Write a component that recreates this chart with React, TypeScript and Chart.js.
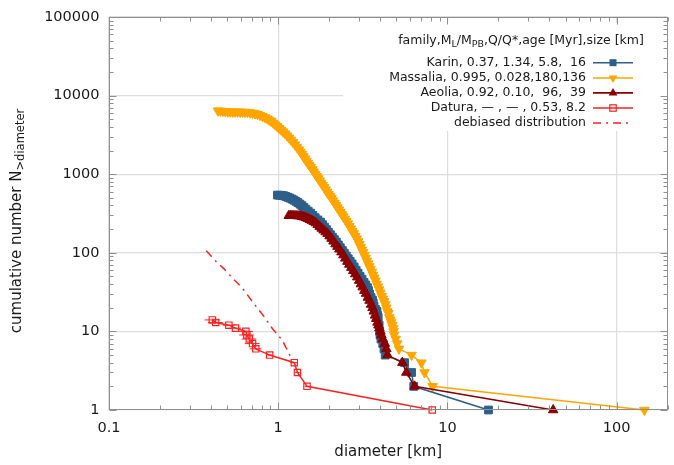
import React, { useEffect, useRef } from 'react';
import { Chart, registerables } from 'chart.js';

Chart.register(...registerables);

// ---------- data ----------
const xTickValues = [0.1, 1, 10, 100];
const yTickValues = [1, 10, 100, 1000, 10000, 100000];
const xTickLabels = ['0.1', '1', '10', '100'];
const yTickLabels = ['1', '10', '100', '1000', '10000', '100000'];

const karinDiameter = [0.99, 1.02, 1.055, 1.084, 1.114, 1.144, 1.175, 1.207, 1.24, 1.274, 1.309, 1.345, 1.381, 1.418, 1.457, 1.504, 1.553, 1.603, 1.655, 1.716, 1.78, 1.829, 1.879, 1.93, 1.982, 2.036, 2.092, 2.149, 2.208, 2.268, 2.33, 2.394, 2.459, 2.526, 2.595, 2.665, 2.737, 2.812, 2.889, 2.967, 3.048, 3.131, 3.217, 3.294, 3.372, 3.419, 3.466, 3.537, 3.609, 3.646, 3.684, 3.759, 3.836, 3.868, 3.9, 3.95, 3.98, 4.0, 4.05, 4.15, 4.22, 4.29, 5.59, 6.14, 6.33, 17.5];
const karinCount = [542, 540, 536, 530, 520, 507, 496, 482, 468, 451, 435, 416, 398, 378, 359, 339, 320, 299, 280, 262, 246, 228, 212, 197, 183, 170, 158, 147, 137, 126, 116, 107, 99, 91, 84, 78, 72, 66, 60, 55, 50, 46, 42, 39, 36, 33, 30, 27, 25, 23, 21, 19, 18, 16, 15, 12, 10, 9, 8, 7, 6, 5, 4, 3, 2, 1];

const massaliaDiameter = [0.4405, 0.4555, 0.471, 0.487, 0.504, 0.521, 0.539, 0.557, 0.576, 0.596, 0.616, 0.637, 0.659, 0.682, 0.705, 0.729, 0.754, 0.78, 0.807, 0.835, 0.863, 0.886, 0.91, 0.935, 0.961, 0.987, 1.014, 1.042, 1.07, 1.099, 1.129, 1.16, 1.191, 1.224, 1.257, 1.291, 1.326, 1.353, 1.381, 1.409, 1.438, 1.467, 1.497, 1.527, 1.558, 1.59, 1.622, 1.655, 1.689, 1.724, 1.759, 1.795, 1.831, 1.868, 1.906, 1.945, 1.985, 2.026, 2.067, 2.109, 2.152, 2.196, 2.24, 2.286, 2.332, 2.38, 2.428, 2.478, 2.528, 2.579, 2.632, 2.686, 2.74, 2.796, 2.853, 2.911, 2.971, 3.021, 3.072, 3.124, 3.177, 3.231, 3.286, 3.342, 3.398, 3.456, 3.514, 3.574, 3.634, 3.695, 3.758, 3.822, 3.887, 3.953, 4.02, 4.088, 4.157, 4.227, 4.299, 4.358, 4.417, 4.477, 4.538, 4.6, 4.662, 4.72, 4.789, 4.81, 4.84, 4.95, 5.05, 5.18, 6.14, 7.02, 7.33, 8.18, 146];
const massaliaCount = [6427, 6381, 6336, 6288, 6240, 6225, 6210, 6210, 6210, 6197, 6185, 6167, 6150, 6080, 6010, 5907, 5805, 5635, 5470, 5274, 5085, 4903, 4728, 4492, 4268, 4055, 3853, 3660, 3477, 3279, 3092, 2907, 2733, 2548, 2375, 2208, 2052, 1921, 1798, 1683, 1576, 1475, 1381, 1303, 1230, 1151, 1077, 1008, 944, 884, 827, 775, 726, 680, 636, 595, 557, 526, 496, 461, 429, 402, 376, 352, 329, 308, 289, 270, 253, 235, 218, 203, 189, 176, 163, 151, 139, 128, 118, 109, 101, 93, 86, 79, 73, 67, 62, 57, 52, 48, 44, 40, 37, 34, 31, 28, 26, 24, 22, 20, 18, 17, 15, 14, 13, 12, 11, 10, 9, 8, 7, 6, 5, 4, 3, 2, 1];

const aeoliaDiameter = [1.155, 1.181, 1.207, 1.24, 1.274, 1.309, 1.344, 1.381, 1.419, 1.457, 1.497, 1.537, 1.579, 1.622, 1.667, 1.712, 1.759, 1.807, 1.856, 1.906, 1.958, 2.012, 2.067, 2.123, 2.181, 2.24, 2.301, 2.364, 2.428, 2.494, 2.562, 2.632, 2.704, 2.778, 2.853, 2.931, 3.011, 3.082, 3.155, 3.23, 3.307, 3.386, 3.467, 3.538, 3.61, 3.672, 3.734, 3.798, 3.862, 3.914, 3.966, 4.02, 4.074, 4.157, 4.271, 4.358, 4.43, 5.42, 5.72, 6.4, 42.2];
const aeoliaCount = [297, 297, 297, 296, 295, 294, 293, 288, 284, 278, 272, 264, 257, 248, 239, 227, 215, 204, 194, 184, 175, 163, 152, 140, 129, 120, 111, 102, 93.5, 85, 77.3, 71, 64.8, 59, 53.6, 49, 44.3, 40, 36.6, 33, 30.3, 27, 24.7, 22, 20, 18, 16, 14.5, 13, 12, 11, 10, 9, 8, 7, 6, 5, 4, 3, 2, 1];

const daturaDiameter = [0.408, 0.427, 0.511, 0.559, 0.644, 0.653, 0.675, 0.705, 0.737, 0.89, 1.245, 1.3, 1.48, 8.14];
const daturaCount = [14, 13, 12, 11, 10, 9, 8, 7, 6, 5, 4, 3, 2, 1];
const daturaDiameterError = [0.1, 0.1, 0.08, 0.08, 0.1, 0.1, 0.1, 0.1, 0.08, 0.03, 0.05, 0.03, 0.03, 0];

const debiasedDiameter = [0.376, 0.431, 0.482, 0.551, 0.616, 0.705, 0.825, 0.923, 1.055, 1.155, 1.207];
const debiasedCount = [106, 76.9, 61.5, 45, 35.3, 23.8, 15.4, 10.9, 7.8, 5.3, 4.3];

const legendLabels = [
  'Karin, 0.37, 1.34, 5.8,  16',
  'Massalia, 0.995, 0.028,180,136',
  'Aeolia, 0.92, 0.10,  96,  39',
  'Datura, \u2014 , \u2014 , 0.53, 8.2',
  'debiased distribution',
];

// ---------- styles ----------
const KARIN = '#2d5f8a';
const MASSALIA = '#ffa500';
const AEOLIA = '#8b0000';
const DATURA = '#ff2020';
const FONT = '"DejaVu Sans", sans-serif';
const DASH = [8, 5, 2, 5];

const pts = (xs: number[], ys: number[]) => xs.map((x, i) => ({ x, y: ys[i] }));

function marker(ctx: CanvasRenderingContext2D, kind: string, x: number, y: number, color: string) {
  ctx.save();
  ctx.fillStyle = color;
  ctx.strokeStyle = color;
  ctx.lineWidth = 1.2;
  ctx.setLineDash([]);
  if (kind === 'square') {
    ctx.fillRect(x - 3.5, y - 3.5, 7, 7);
  } else if (kind === 'open') {
    ctx.strokeRect(x - 3.2, y - 3.2, 6.4, 6.4);
  } else if (kind === 'up' || kind === 'down') {
    const s = kind === 'up' ? 1 : -1;
    ctx.beginPath();
    ctx.moveTo(x, y - s * 5);
    ctx.lineTo(x + 4.4, y + s * 2.6);
    ctx.lineTo(x - 4.4, y + s * 2.6);
    ctx.closePath();
    ctx.fill();
  }
  ctx.restore();
}

function drawSubText(ctx: CanvasRenderingContext2D, parts: [string, boolean][], x: number, y: number, size: number, sub: number, align: 'center' | 'left') {
  ctx.textBaseline = 'middle';
  ctx.textAlign = 'left';
  let total = 0;
  const widths = parts.map(([t, s]) => {
    ctx.font = `${s ? sub : size}px ${FONT}`;
    const w = ctx.measureText(t).width;
    total += w;
    return w;
  });
  let cx = align === 'center' ? x - total / 2 : x;
  parts.forEach(([t, s], i) => {
    ctx.font = `${s ? sub : size}px ${FONT}`;
    ctx.fillText(t, cx, s ? y + size * 0.3 : y);
    cx += widths[i];
  });
}

const overlayPlugin = {
  id: 'overlay',
  afterDatasetsDraw(chart: any) {
    const ctx: CanvasRenderingContext2D = chart.ctx;
    const { left, right, top, bottom } = chart.chartArea;
    const xs = chart.scales.x;
    const ys = chart.scales.y;
    ctx.save();

    // Datura error bars
    ctx.strokeStyle = DATURA;
    ctx.lineWidth = 1;
    daturaDiameter.forEach((d, i) => {
      const e = daturaDiameterError[i];
      if (!e) return;
      const y = ys.getPixelForValue(daturaCount[i]);
      ctx.beginPath();
      ctx.moveTo(xs.getPixelForValue(d * (1 - e)), y);
      ctx.lineTo(xs.getPixelForValue(d * (1 + e)), y);
      ctx.stroke();
    });

    // legend box
    ctx.fillStyle = '#ffffff';
    ctx.fillRect(343, 23, right - 343, 108);
    ctx.fillStyle = '#1a1a1a';
    drawSubText(ctx, [['family,M', false], ['L', true], ['/M', false], ['PB', true], [',Q/Q*,age [Myr],size [km]', false]], 521, 41, 12.5, 9.5, 'center');
    const rows = [62.7, 78, 92.9, 108, 123];
    const colors = [KARIN, MASSALIA, AEOLIA, DATURA, DATURA];
    const kinds = ['square', 'down', 'up', 'open', 'none'];
    ctx.font = `12.5px ${FONT}`;
    ctx.textAlign = 'right';
    ctx.textBaseline = 'middle';
    legendLabels.forEach((t, i) => {
      ctx.fillStyle = '#1a1a1a';
      ctx.fillText(t, 586, rows[i]);
      ctx.strokeStyle = colors[i];
      ctx.lineWidth = 1.6;
      ctx.setLineDash(i === 4 ? DASH : []);
      ctx.beginPath();
      ctx.moveTo(593, rows[i]);
      ctx.lineTo(633, rows[i]);
      ctx.stroke();
      ctx.setLineDash([]);
      if (kinds[i] !== 'none') marker(ctx, kinds[i], 613, rows[i], colors[i]);
    });

    // frame and inward ticks
    ctx.strokeStyle = '#8f8f8f';
    ctx.lineWidth = 1;
    const L = Math.round(left) + 0.5, R = Math.round(right) - 0.5, T = Math.round(top) + 0.5, B = Math.round(bottom) - 0.5;
    ctx.strokeRect(L, T, R - L, B - T);
    ctx.beginPath();
    for (let m = -1; m <= 2; m++) {
      for (let k = 1; k <= 9; k++) {
        const v = k * Math.pow(10, m);
        if (v < 0.1 || v > 200) continue;
        const px = Math.round(xs.getPixelForValue(v)) + 0.5;
        const len = k === 1 ? 7 : 4;
        ctx.moveTo(px, B); ctx.lineTo(px, B - len);
        ctx.moveTo(px, T); ctx.lineTo(px, T + len);
      }
    }
    for (let m = 0; m <= 5; m++) {
      for (let k = 1; k <= 9; k++) {
        const v = k * Math.pow(10, m);
        if (v > 100000) continue;
        const py = Math.round(ys.getPixelForValue(v)) + 0.5;
        const len = k === 1 ? 7 : 4;
        ctx.moveTo(L, py); ctx.lineTo(L + len, py);
        ctx.moveTo(R, py); ctx.lineTo(R - len, py);
      }
    }
    ctx.stroke();

    // tick labels
    ctx.fillStyle = '#1a1a1a';
    ctx.font = `14.5px ${FONT}`;
    ctx.textAlign = 'right';
    ctx.textBaseline = 'middle';
    yTickValues.forEach((v, i) => ctx.fillText(yTickLabels[i], left - 9.5, ys.getPixelForValue(v)));
    ctx.textAlign = 'center';
    xTickValues.forEach((v, i) => ctx.fillText(xTickLabels[i], xs.getPixelForValue(v), bottom + 18));

    // axis titles
    ctx.font = `15px ${FONT}`;
    ctx.fillText('diameter [km]', (left + right) / 2, 452);
    ctx.save();
    ctx.translate(17, 221);
    ctx.rotate(-Math.PI / 2);
    drawSubText(ctx, [['cumulative number N', false], ['>diameter', true]], 0, 0, 15, 11.5, 'center');
    ctx.restore();

    ctx.restore();
  },
};

export default function App() {
  const canvasRef = useRef<HTMLCanvasElement>(null);
  useEffect(() => {
    const common = { borderWidth: 1.5, clip: false as any, tension: 0, pointBorderWidth: 1 };
    const chart = new Chart(canvasRef.current as HTMLCanvasElement, {
      type: 'line',
      data: {
        datasets: [
          { ...common, label: 'Aeolia', data: pts(aeoliaDiameter, aeoliaCount), borderColor: AEOLIA, backgroundColor: AEOLIA, pointStyle: 'triangle', pointRadius: 5.5, order: 1 },
          { ...common, label: 'Karin', data: pts(karinDiameter, karinCount), borderColor: KARIN, backgroundColor: KARIN, pointStyle: 'rect', pointRadius: 5.5, order: 2 },
          { ...common, label: 'Massalia', data: pts(massaliaDiameter, massaliaCount), borderColor: MASSALIA, backgroundColor: MASSALIA, pointStyle: 'triangle', pointRotation: 180, pointRadius: 5.5, order: 3 },
          { ...common, label: 'Datura', data: pts(daturaDiameter, daturaCount), borderColor: DATURA, backgroundColor: 'rgba(0,0,0,0)', pointBorderColor: DATURA, pointStyle: 'rect', pointRadius: 4.5, pointBorderWidth: 1.2, order: 4 },
          { ...common, label: 'debiased distribution', data: pts(debiasedDiameter, debiasedCount), borderColor: DATURA, borderDash: DASH, pointRadius: 0, order: 5 },
        ] as any,
      },
      options: {
        animation: false,
        responsive: true,
        maintainAspectRatio: false,
        layout: { padding: { left: 109, right: 0, top: 17, bottom: 55 } },
        plugins: { legend: { display: false }, tooltip: { enabled: false } },
        events: [],
        scales: {
          x: {
            type: 'logarithmic', min: 0.1, max: 200,
            afterBuildTicks: (s: any) => { s.ticks = xTickValues.map((v) => ({ value: v })); },
            afterFit: (s: any) => { s.height = 0; },
            ticks: { display: false },
            grid: { color: '#dddddd', lineWidth: 1.2, drawTicks: false },
            border: { display: false },
          },
          y: {
            type: 'logarithmic', min: 1, max: 100000,
            afterBuildTicks: (s: any) => { s.ticks = yTickValues.map((v) => ({ value: v })); },
            afterFit: (s: any) => { s.width = 0; },
            ticks: { display: false },
            grid: { color: '#dddddd', lineWidth: 1.2, drawTicks: false },
            border: { display: false },
          },
        },
      } as any,
      plugins: [overlayPlugin],
    });
    return () => chart.destroy();
  }, []);
  return (
    <div style={{ position: 'absolute', left: 0, top: 0, width: 674, height: 465, background: '#ffffff' }}>
      <canvas ref={canvasRef} />
    </div>
  );
}
